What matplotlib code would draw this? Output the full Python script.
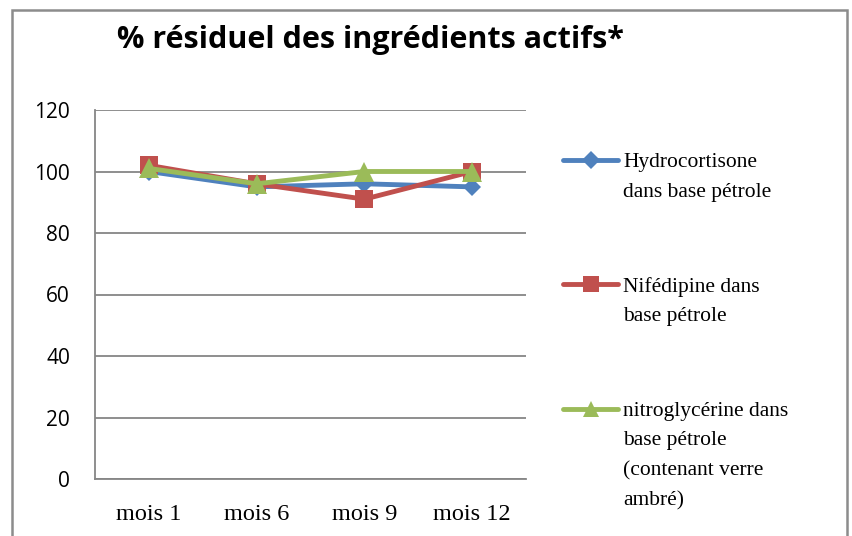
import matplotlib.pyplot as plt
from matplotlib.lines import Line2D
from matplotlib.patches import Rectangle

# Données
mois = ['mois 1', 'mois 6', 'mois 9', 'mois 12']
hydrocortisone = [100, 95, 96, 95]
nifedipine = [102, 96, 91, 100]
nitroglycerine = [101, 96, 100, 100]

labels = ['Hydrocortisone\ndans base pétrole',
          'Nifédipine dans\nbase pétrole',
          'nitroglycérine dans\nbase pétrole\n(contenant verre\nambré)']
couleurs = ['#4F81BD', '#C0504D', '#9BBB59']
marqueurs = ['D', 's', '^']
tailles = [9, 13, 14]
series = [hydrocortisone, nifedipine, nitroglycerine]

fig = plt.figure(figsize=(8.53, 5.36), dpi=100)
W, H = 853, 536

# Cadre du graphique
fig.patches.append(Rectangle((12 / W, -0.01), (847 - 12) / W, (536 - 10) / H + 0.01,
                             transform=fig.transFigure, fill=False,
                             edgecolor='#8c8c8c', linewidth=1.8))

ax = fig.add_axes([95 / W, 1 - 479 / H, (526 - 95) / W, (479 - 110) / H])
x = range(len(mois))
for vals, c, m, s in zip(series, couleurs, marqueurs, tailles):
    ax.plot(x, vals, color=c, marker=m, markersize=s, linewidth=3.5,
            markeredgewidth=0, clip_on=False)

ax.set_xlim(-0.5, len(mois) - 0.5)
ax.set_ylim(0, 120)
ax.set_yticks(range(0, 121, 20))
ax.set_xticks(list(x))
ax.set_xticklabels(mois, fontfamily='Liberation Serif', fontsize=17.5)
ax.tick_params(axis='y', labelsize=15, length=0, pad=18)
ax.tick_params(axis='x', length=0, pad=18)
for lab in ax.get_yticklabels():
    lab.set_fontfamily('Open Sans')
ax.grid(axis='y', color='#868686', linewidth=1.3)
ax.set_axisbelow(True)
for sp in ['top', 'right']:
    ax.spines[sp].set_visible(False)
for sp in ['left', 'bottom']:
    ax.spines[sp].set_color('#868686')
    ax.spines[sp].set_linewidth(1.3)

fig.text(370 / W, 1 - 40 / H, '% résiduel des ingrédients actifs*',
         ha='center', va='center', fontsize=22, fontweight='bold',
         fontfamily='Open Sans')

# Légende
ys = [160, 284, 409]
for lab, c, m, y in zip(labels, couleurs, marqueurs, ys):
    fig.add_artist(Line2D([563 / W, 618 / W], [1 - y / H, 1 - y / H],
                          transform=fig.transFigure, color=c, linewidth=3.5,
                          solid_capstyle='round'))
    fig.add_artist(Line2D([590.5 / W], [1 - y / H], transform=fig.transFigure,
                          color=c, marker=m, markersize=11 if m != 'D' else 9,
                          markeredgewidth=0))
    fig.text(623 / W, 1 - (y - 7) / H, lab, ha='left', va='top',
             fontsize=15.5, fontfamily='Liberation Serif', linespacing=1.75)

fig.savefig('out.png', dpi=100)
